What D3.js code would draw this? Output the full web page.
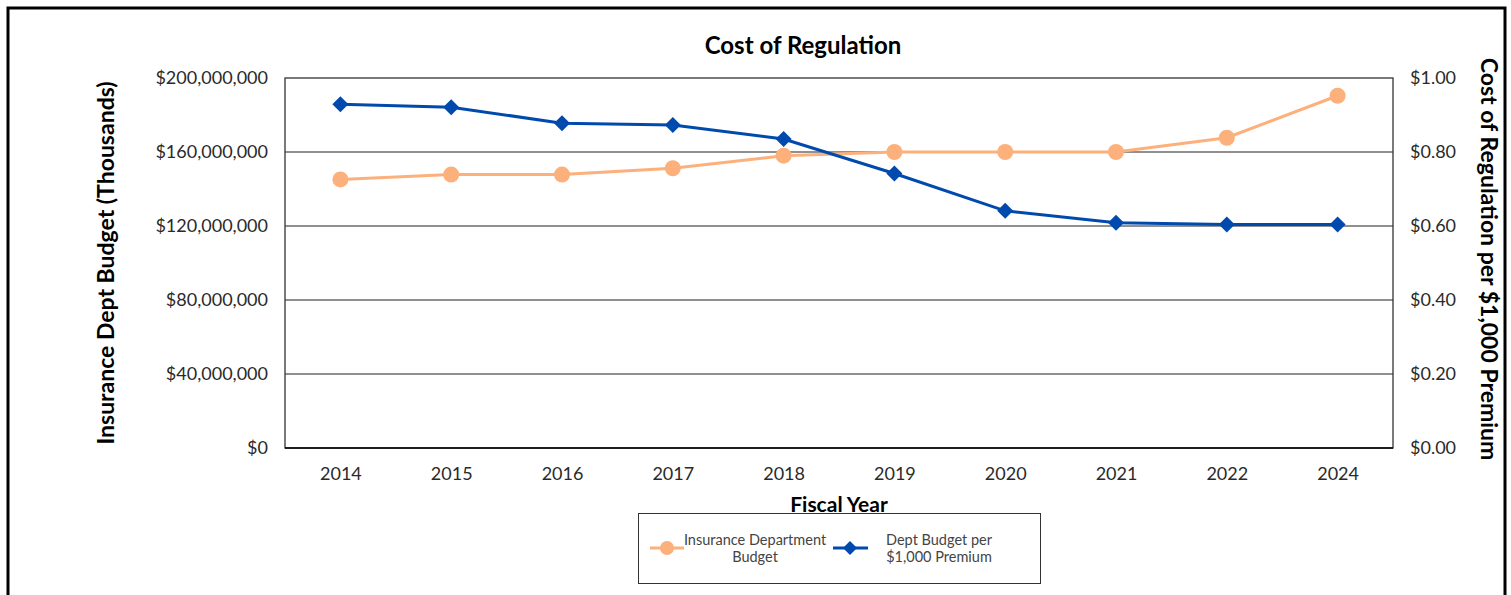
<!DOCTYPE html>
<html><head><meta charset="utf-8">
<script src="https://cdn.jsdelivr.net/npm/d3@7"></script>
<style>body{margin:0;background:#fff;} svg{display:block;font-family:Lato,"Noto Sans",sans-serif;}</style>
</head><body>
<svg id="c" width="1511" height="595"></svg>
<script>
const years = ["2014","2015","2016","2017","2018","2019","2020","2021","2022","2024"];
const budget = [145200000,147800000,147800000,151200000,158000000,160000000,160000000,160000000,167700000,190400000];
const perThousand = [0.929,0.921,0.878,0.873,0.835,0.742,0.641,0.609,0.604,0.604];
const leftTicks = [0,40000000,80000000,120000000,160000000,200000000];
const rightTicks = [0,0.2,0.4,0.6,0.8,1.0];

const orange = "#FCB07B", blue = "#0049AD";
const svg = d3.select("#c");
const m = {l:285, r:1393, t:78, b:448};

svg.append("rect").attr("x",8).attr("y",8).attr("width",1497).attr("height",620)
  .attr("fill","none").attr("stroke","#000").attr("stroke-width",3);

const x = d3.scalePoint().domain(years).range([m.l,m.r]).padding(0.5);
const yL = d3.scaleLinear().domain([0,200000000]).range([m.b,m.t]);
const yR = d3.scaleLinear().domain([0,1]).range([m.b,m.t]);

// gridlines
svg.append("g").selectAll("line").data(leftTicks.slice(1,-1)).join("line")
  .attr("x1",m.l).attr("x2",m.r).attr("y1",d=>yL(d)).attr("y2",d=>yL(d))
  .attr("stroke","#6b6b6b").attr("stroke-width",1.3);
// plot frame
svg.append("rect").attr("x",m.l).attr("y",m.t).attr("width",m.r-m.l).attr("height",m.b-m.t)
  .attr("fill","none").attr("stroke","#333").attr("stroke-width",1.3);
svg.append("line").attr("x1",m.l).attr("x2",m.r).attr("y1",m.b).attr("y2",m.b).attr("stroke","#000").attr("stroke-width",1.5);

// axes
const fmtL = d => "$" + d3.format(",")(d);
const gL = svg.append("g").attr("transform",`translate(${m.l},0)`)
  .call(d3.axisLeft(yL).tickValues(leftTicks).tickFormat(fmtL).tickSize(0).tickPadding(17));
const gR = svg.append("g").attr("transform",`translate(${m.r},0)`)
  .call(d3.axisRight(yR).tickValues(rightTicks).tickFormat(d=>"$"+d.toFixed(2)).tickSize(0).tickPadding(17));
const gX = svg.append("g").attr("transform",`translate(0,${m.b})`)
  .call(d3.axisBottom(x).tickSize(0).tickPadding(19));
[gL,gR,gX].forEach(g=>{
  g.select(".domain").remove();
  g.selectAll("text").attr("font-size",18).attr("fill","#2a2a2a").attr("font-family","Lato,'Noto Sans',sans-serif");
});

// titles
svg.append("text").attr("x",803).attr("y",54).attr("text-anchor","middle")
  .attr("font-size",24).attr("font-weight","bold").attr("fill","#000").text("Cost of Regulation");
svg.append("text").attr("transform","translate(114,263) rotate(-90)").attr("text-anchor","middle")
  .attr("font-size",23).attr("font-weight","bold").attr("fill","#000").text("Insurance Dept Budget (Thousands)");
svg.append("text").attr("transform","translate(1481,259) rotate(90)").attr("text-anchor","middle")
  .attr("font-size",23).attr("font-weight","bold").attr("fill","#000").text("Cost of Regulation per $1,000 Premium");
svg.append("text").attr("x",839).attr("y",512).attr("text-anchor","middle")
  .attr("font-size",21).attr("font-weight","bold").attr("fill","#000").text("Fiscal Year");

// series
const lineL = d3.line().x((d,i)=>x(years[i])).y(d=>yL(d));
const lineR = d3.line().x((d,i)=>x(years[i])).y(d=>yR(d));
svg.append("path").datum(budget).attr("d",lineL).attr("fill","none").attr("stroke",orange).attr("stroke-width",3);
svg.append("g").selectAll("circle").data(budget).join("circle")
  .attr("cx",(d,i)=>x(years[i])).attr("cy",d=>yL(d)).attr("r",8).attr("fill",orange);
svg.append("path").datum(perThousand).attr("d",lineR).attr("fill","none").attr("stroke",blue).attr("stroke-width",3);
const diamond = s => `M0,${-s}L${s},0L0,${s}L${-s},0Z`;
svg.append("g").selectAll("path").data(perThousand).join("path")
  .attr("transform",(d,i)=>`translate(${x(years[i])},${yR(d)})`).attr("d",diamond(8)).attr("fill",blue);

// legend
const lg = svg.append("g");
lg.append("rect").attr("x",638.5).attr("y",513.5).attr("width",402).attr("height",70)
  .attr("fill","#fff").attr("stroke","#333").attr("stroke-width",1);
lg.append("line").attr("x1",650).attr("x2",684).attr("y1",548).attr("y2",548).attr("stroke",orange).attr("stroke-width",3);
lg.append("circle").attr("cx",667).attr("cy",548).attr("r",7).attr("fill",orange);
lg.append("line").attr("x1",833).attr("x2",868).attr("y1",548).attr("y2",548).attr("stroke",blue).attr("stroke-width",3);
lg.append("path").attr("transform","translate(850,548)").attr("d",diamond(7)).attr("fill",blue);
const lt = [["Insurance Department","Budget",755],["Dept Budget per","$1,000 Premium",939]];
lt.forEach(([a,b,cx])=>{
  const t = lg.append("text").attr("text-anchor","middle").attr("font-size",14.5).attr("fill","#444");
  t.append("tspan").attr("x",cx).attr("y",545).text(a);
  t.append("tspan").attr("x",cx).attr("y",562).text(b);
});
</script>
</body></html>
